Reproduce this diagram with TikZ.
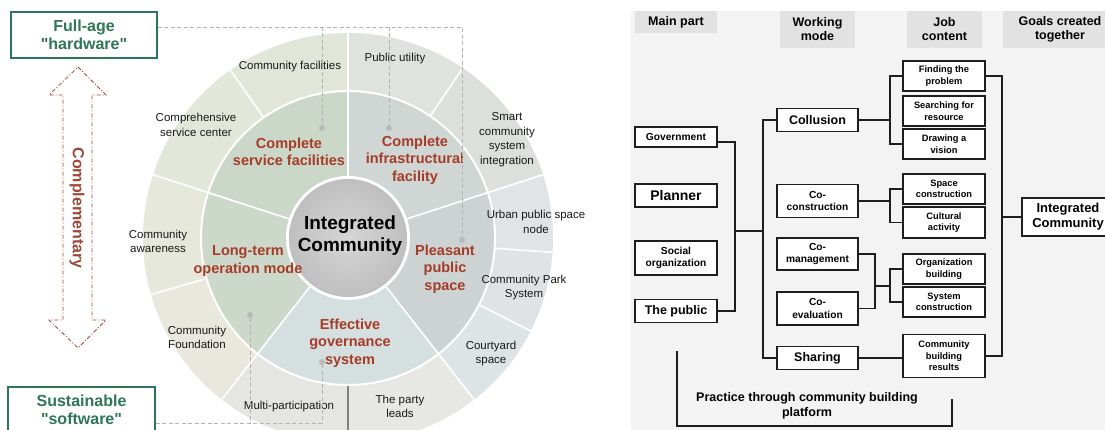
\documentclass[tikz,border=0pt]{standalone}
\usepackage{fontspec}
\setmainfont{Liberation Sans}
\usetikzlibrary{calc}
\definecolor{redtxt}{RGB}{166,60,40}
\definecolor{grntxt}{RGB}{46,118,88}
\definecolor{arrc}{RGB}{160,72,56}
\definecolor{panel}{RGB}{243,243,243}
\definecolor{hdrc}{RGB}{226,226,226}
\definecolor{lnc}{RGB}{30,30,30}
\definecolor{dashc}{RGB}{180,180,180}
\definecolor{dotc}{RGB}{185,185,185}
% inner ring
\definecolor{iInf}{RGB}{207,214,211}
\definecolor{iSer}{RGB}{202,215,201}
\definecolor{iLon}{RGB}{204,216,201}
\definecolor{iEff}{RGB}{213,223,224}
\definecolor{iPle}{RGB}{204,211,210}
% outer ring
\definecolor{oSma}{RGB}{220,223,219}
\definecolor{oPub}{RGB}{223,226,222}
\definecolor{oCfa}{RGB}{225,230,217}
\definecolor{oCom}{RGB}{227,231,218}
\definecolor{oAwa}{RGB}{230,232,220}
\definecolor{oFou}{RGB}{232,232,222}
\definecolor{oMul}{RGB}{229,229,225}
\definecolor{oPar}{RGB}{231,231,227}
\definecolor{oCou}{RGB}{222,227,229}
\definecolor{oPrk}{RGB}{223,227,229}
\definecolor{oUrb}{RGB}{224,228,230}
\definecolor{cc1}{RGB}{214,214,214}
\definecolor{cc2}{RGB}{190,190,190}
\definecolor{cc3}{RGB}{135,135,135}
\definecolor{cc4}{RGB}{85,85,85}
\pgfdeclareradialshading{ccirc}{\pgfpointorigin}{color(0bp)=(cc1); color(26bp)=(cc2); color(44bp)=(cc3); color(50bp)=(cc4)}
\newcommand\ringsec[5]{%
  \fill[#5] ($(C)+(#1:#4)$) arc[start angle=#1, end angle=#2, radius=#4]
     -- ($(C)+(#2:#3)$) arc[start angle=#2, end angle=#1, radius=#3] -- cycle;}
\newcommand\sq{\textquotedbl}
\begin{document}
\begin{tikzpicture}[x=1pt,y=1pt,
  dashl/.style={draw=dashc, line width=0.9pt, dash pattern=on 4pt off 2.5pt},
  dotn/.style={circle, fill=dotc, minimum size=6, inner sep=0pt},
  lbl/.style={align=center, inner sep=0pt, text={rgb,255:red,25;green,25;blue,25}, font=\fontsize{11.5}{14.5}\selectfont},
  rlbl/.style={align=center, inner sep=0pt, text=redtxt, font=\bfseries\fontsize{14.5}{17.5}\selectfont},
  gbox/.style={draw=grntxt, line width=1.2pt, fill=white, text=grntxt, align=center, inner sep=0pt, minimum width=146, minimum height=46, font=\bfseries\fontsize{16}{18.5}\selectfont},
  hdr/.style={fill=hdrc, align=center, inner sep=0pt, font=\bfseries\fontsize{12.5}{14}\selectfont},
  bx/.style={draw=lnc, line width=1.2pt, fill=white, align=center, inner sep=0pt, minimum width=82},
  fsA/.style={font=\bfseries\fontsize{9.3}{11.5}\selectfont},
  fsB/.style={font=\bfseries\fontsize{10.2}{12.5}\selectfont},
  fsC/.style={font=\bfseries\fontsize{12.5}{14.5}\selectfont},
  fsD/.style={font=\bfseries\fontsize{14}{16}\selectfont},
  cn/.style={draw=lnc, line width=1.2pt},
  arrowc/.style={draw=arrc, line width=0.8pt, dash pattern=on 4pt off 2pt on 1pt off 2pt}
]
\useasboundingbox (0,0) rectangle (1105,-430);
\fill[white] (0,0) rectangle (1105,-430);
\begin{scope}
\clip (0,0) rectangle (1105,-430);

% ================= LEFT: ring diagram =================
\coordinate (C) at (348,-238);
% outer ring
\ringsec{18}{56}{147}{205}{oSma}
\ringsec{56}{90}{147}{205}{oPub}
\ringsec{90}{125}{147}{205}{oCfa}
\ringsec{125}{162}{147}{205}{oCom}
\ringsec{162}{196}{147}{205}{oAwa}
\ringsec{196}{232}{147}{205}{oFou}
\ringsec{232}{270}{147}{205}{oMul}
\ringsec{270}{308}{147}{205}{oPar}
\ringsec{308}{333}{147}{205}{oCou}
\ringsec{333}{356}{147}{205}{oPrk}
\ringsec{356}{378}{147}{205}{oUrb}
% inner ring
\ringsec{18}{90}{58}{147}{iInf}
\ringsec{90}{162}{58}{147}{iSer}
\ringsec{162}{232}{58}{147}{iLon}
\ringsec{232}{308}{58}{147}{iEff}
\ringsec{308}{378}{58}{147}{iPle}
% boundaries
\foreach \a in {18,90,162,232,308}
  \draw[white, line width=1.6pt] ($(C)+(\a:60)$) -- ($(C)+(\a:147)$);
\foreach \a in {18,56,90,125,162,196,232,308,333,356}
  \draw[white, line width=1.6pt] ($(C)+(\a:147)$) -- ($(C)+(\a:205)$);
\draw[gray, line width=1.2pt] ($(C)+(270:148)$) -- ($(C)+(270:205)$);
\draw[white, line width=2pt] (C) circle[radius=147];
% centre
\fill[white] (C) circle[radius=62];
\shade[shading=ccirc] (C) circle[radius=59];
\node[align=center, inner sep=0pt, font=\bfseries\fontsize{19}{22}\selectfont] (ctr) at (350,-236) {Integrated\\Community};

% red labels
\node[rlbl] (rSer) at (289,-152) {Complete\\service facilities};
\node[rlbl] (rInf) at (415,-160) {Complete\\infrastructural\\facility};
\node[rlbl] (rLon) at (248,-261) {Long-term\\operation mode};
\node[rlbl] (rPle) at (445,-269) {Pleasant\\public\\space};
\node[rlbl] (rEff) at (350,-343) {Effective\\governance\\system};

% outer labels
\node[lbl] (lCfa) at (290,-67) {Community facilities};
\node[lbl] (lPub) at (395,-59) {Public utility};
\node[lbl] (lCom) at (196,-125) {Comprehensive\\service center};
\node[lbl] (lSma) at (507,-139.5) {Smart\\community\\system\\integration};
\node[lbl] (lUrb) at (536,-222) {Urban public space\\node};
\node[lbl] (lPrk) at (524,-287.5) {Community Park\\System};
\node[lbl] (lCou) at (491,-353.5) {Courtyard\\space};
\node[lbl] (lPar) at (400,-406.5) {The party\\leads};
\node[lbl] (lMul) at (289,-407) {Multi-participation};
\node[lbl] (lFou) at (197,-337.5) {Community\\Foundation};
\node[lbl] (lAwa) at (158,-241.5) {Community\\awareness};

% dots and dashed leaders
\node[dotn] (dS) at (322,-128) {};
\node[dotn] (dI) at (389,-128) {};
\node[dotn] (dP) at (462,-240) {};
\node[dotn] (dL) at (250,-315) {};
\node[dotn] (dE) at (322,-362) {};

\node[gbox] (fa) at (84,-35) {Full-age\\\sq hardware\sq};
\node[gbox, minimum width=147] (sw) at (81.5,-410) {Sustainable\\\sq software\sq};

\coordinate (tc) at (462,-27);
\draw[dashl] (fa.east |- tc) -- (tc) -- (dP);
\draw[dashl] (dS |- tc) -- (dS);
\draw[dashl] (dI |- tc) -- (dI);
\coordinate (bc) at (322,-423);
\draw[dashl] (sw.east |- bc) -- (bc) -- (dE);
\draw[dashl] (dL) -- (dL |- bc);

% complementary arrow
\draw[arrowc] (78,-67) -- (106,-95) -- (92,-95) -- (92,-320) -- (106,-320) -- (78,-348)
   -- (49,-320) -- (63,-320) -- (63,-95) -- (49,-95) -- cycle;
\node[rotate=-90, inner sep=0pt, text=arrc, font=\bfseries\fontsize{16}{18}\selectfont] (cmp) at (77,-208) {Complementary};

% ================= RIGHT: flow chart =================
\fill[panel] (631,-11) rectangle (1110,-435);
\node[hdr, minimum width=82, minimum height=22] (h1) at (676,-22) {Main part};
\node[hdr, minimum width=75, minimum height=37] (h2) at (817.5,-29.5) {Working\\mode};
\node[hdr, minimum width=75, minimum height=37] (h3) at (944.5,-29.5) {Job\\content};
\node[hdr, minimum width=114, minimum height=37] (h4) at (1060,-29.5) {Goals created\\together};

\node[bx, fsB, minimum height=20] (gov) at (676,-137) {Government};
\node[bx, fsD, minimum height=23] (plan) at (676,-195.5) {Planner};
\node[bx, fsB, minimum height=34] (soc) at (676,-258) {Social\\organization};
\node[bx, fsC, minimum height=23] (pub) at (676,-311) {The public};

\node[bx, fsC, minimum width=81, minimum height=23] (col) at (817.5,-120) {Collusion};
\node[bx, fsB, minimum width=81, minimum height=33] (ccon) at (817.5,-201) {Co-\\construction};
\node[bx, fsB, minimum width=81, minimum height=32] (cman) at (817.5,-254) {Co-\\management};
\node[bx, fsB, minimum width=81, minimum height=33] (ceva) at (817.5,-308.5) {Co-\\evaluation};
\node[bx, fsC, minimum width=81, minimum height=23] (shr) at (817.5,-358) {Sharing};

\node[bx, fsA, minimum height=30] (j1) at (944,-76) {Finding the\\problem};
\node[bx, fsA, minimum height=30] (j2) at (944,-111) {Searching for\\resource};
\node[bx, fsA, minimum height=30] (j3) at (944,-144) {Drawing a\\vision};
\node[bx, fsA, minimum height=30] (j4) at (944,-189) {Space\\construction};
\node[bx, fsA, minimum height=31] (j5) at (944,-222.5) {Cultural\\activity};
\node[bx, fsA, minimum height=30] (j6) at (944,-269) {Organization\\building};
\node[bx, fsA, minimum height=30] (j7) at (944,-302) {System\\construction};
\node[bx, fsA, minimum height=43] (j8) at (944,-356) {Community\\building\\results};

\node[bx, font=\bfseries\fontsize{13}{15}\selectfont, minimum width=92, minimum height=38] (ic) at (1068,-217) {Integrated\\Community};

\coordinate (xa) at (735,0);
\coordinate (xb) at (763,0);
\coordinate (xc) at (890,0);
\coordinate (xd) at (875,0);
\coordinate (xe) at (1002,0);
\coordinate (ja) at (735,-231);
\coordinate (jb) at (763,-231);
\coordinate (jm) at (875,-286);

\draw[cn] ([yshift=-5pt]gov.east) -| (xa |- pub.east) -- (pub.east);
\draw[cn] (ja) -- (jb);
\draw[cn] (col.west) -| (xb |- shr.west) -- (shr.west);
\draw[cn] (col.east) -- (col.east -| xc);
\draw[cn] (j1.west) -| (xc |- j3.west) -- (j3.west);
\draw[cn] (ccon.east) -- (ccon.east -| xc);
\draw[cn] (j4.west) -| (xc |- j5.west) -- (j5.west);
\draw[cn] (cman.east) -| (xd |- ceva.east) -- (ceva.east);
\draw[cn] (jm) -- (jm -| xc);
\draw[cn] (j6.west) -| (xc |- j7.west) -- (j7.west);
\draw[cn] (shr.east) -- (shr.east -| j8.west);
\draw[cn] (j1.east) -| (xe |- j8.east) -- (j8.east);
\draw[cn] (ic.west) -- (ic.west -| xe);

\coordinate (pa) at (677,-351);
\coordinate (pb) at (952,-399);
\coordinate (pc) at (952,-426);
\draw[cn] (pa) |- (pc) -- (pb);
\node[align=center, inner sep=0pt, font=\bfseries\fontsize{12.5}{15}\selectfont] (ptx) at (807,-406) {Practice through community building\\platform};
\end{scope}
\end{tikzpicture}
\end{document}
